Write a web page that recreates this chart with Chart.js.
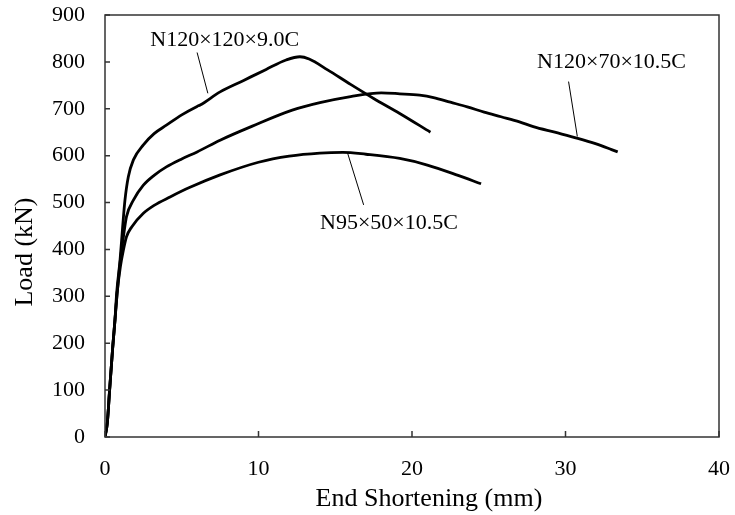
<!DOCTYPE html>
<html>
<head>
<meta charset="utf-8">
<script src="https://cdn.jsdelivr.net/npm/chart.js@4/dist/chart.umd.min.js"></script>
<style>
  html, body { margin: 0; padding: 0; background: #fff; }
  #wrap { width: 735px; height: 515px; }
</style>
</head>
<body>
<div id="wrap"><canvas id="chart" width="735" height="515"></canvas></div>
<script>
// End shortening (mm) / load (kN)
const n120x120_x = [0, 0.15, 0.3, 0.5, 0.65, 0.76, 0.98, 1.15, 1.3, 1.52, 1.85, 2.5, 3.2, 4.0, 5.0, 6.0, 6.2, 7.5, 9.0, 10.5, 11.8, 12.7, 13.3, 14.5, 16.0, 17.5, 19.2, 21.2];
const n120x120_y = [0, 30, 100, 190, 250, 307, 377, 448, 505, 555, 591, 623, 647, 665, 687, 705, 708, 736, 760, 784, 804, 811, 806, 783, 752, 722, 690, 650];

const n120x70_x = [0, 0.15, 0.3, 0.5, 0.65, 0.8, 1.0, 1.2, 1.4, 1.85, 2.5, 3.2, 4.0, 5.0, 6.0, 7.5, 9.6, 12.2, 14.0, 16.0, 18.0, 19.2, 20.5, 21.4, 22.5, 23.6, 24.7, 25.8, 27.0, 27.9, 29.3, 30.8, 32.0, 33.0, 33.4];
const n120x70_y = [0, 30, 100, 190, 250, 310, 377, 427, 470, 505, 537, 558, 576, 593, 608, 633, 663, 697, 713, 726, 734, 732, 729, 724, 714, 704, 693, 683, 672, 662, 650, 637, 625, 613, 608];

const n95x50_x = [0, 0.15, 0.3, 0.5, 0.65, 0.8, 1.0, 1.2, 1.4, 1.74, 2.5, 3.2, 4.24, 5.5, 7.5, 10.0, 12.0, 14.0, 15.5, 17.0, 19.2, 21.0, 23.0, 24.5];
const n95x50_y = [0, 30, 100, 190, 250, 310, 363, 399, 427, 448, 477, 494, 512, 532, 559, 586, 599, 605.5, 607, 603, 594, 580, 558, 540];

const xTicks = [0, 10, 20, 30, 40];
const yTicks = [0, 100, 200, 300, 400, 500, 600, 700, 800, 900];

// curve labels and their leader lines, in data units
const labelText = ['N120×120×9.0C', 'N120×70×10.5C', 'N95×50×10.5C'];
const labelX = [7.8, 33.0, 18.5];
const labelY = [846, 800, 456];
const leaderFrom = [[6.0, 820], [30.2, 758], [15.8, 606]];
const leaderTo = [[6.7, 733], [30.77, 641], [16.85, 495]];

const FONT = "'Liberation Serif', 'Times New Roman', serif";

function toPoints(xs, ys) {
    return xs.map((x, i) => ({ x: x, y: ys[i] }));
}

function curve(label, xs, ys) {
    return {
        label: label,
        data: toPoints(xs, ys),
        showLine: true,
        borderColor: '#000',
        borderWidth: 2.8,
        pointRadius: 0,
        cubicInterpolationMode: 'monotone',
        fill: false,
    };
}

// no automatic label overflow padding, the layout padding sets the plot box
function fixBox(scale) {
    scale.paddingTop = 0;
    scale.paddingBottom = 0;
    scale.paddingLeft = 0;
    scale.paddingRight = 0;
}

// frame, inward ticks, axis titles and curve labels
const decorations = {
    id: 'decorations',
    afterDatasetsDraw(chart) {
        const { ctx, chartArea: a, scales } = chart;
        const xs = scales.x, ys = scales.y;
        ctx.save();

        ctx.strokeStyle = '#333';
        ctx.lineWidth = 1.5;
        ctx.strokeRect(a.left, a.top, a.right - a.left, a.bottom - a.top);

        ctx.beginPath();
        xTicks.forEach(v => {
            const px = xs.getPixelForValue(v);
            ctx.moveTo(px, a.bottom);
            ctx.lineTo(px, a.bottom - 6);
        });
        yTicks.forEach(v => {
            const py = ys.getPixelForValue(v);
            ctx.moveTo(a.left, py);
            ctx.lineTo(a.left + 5, py);
        });
        ctx.stroke();

        // leaders
        ctx.strokeStyle = '#000';
        ctx.lineWidth = 1;
        ctx.beginPath();
        leaderFrom.forEach((p, i) => {
            const q = leaderTo[i];
            ctx.moveTo(xs.getPixelForValue(p[0]), ys.getPixelForValue(p[1]));
            ctx.lineTo(xs.getPixelForValue(q[0]), ys.getPixelForValue(q[1]));
        });
        ctx.stroke();

        ctx.fillStyle = '#000';
        ctx.textAlign = 'center';
        ctx.textBaseline = 'middle';
        ctx.font = '22px ' + FONT;
        labelText.forEach((t, i) => {
            ctx.fillText(t, xs.getPixelForValue(labelX[i]), ys.getPixelForValue(labelY[i]));
        });

        // axis titles
        ctx.font = '26px ' + FONT;
        ctx.fillText('End Shortening (mm)', 429, 499);
        ctx.translate(25, 252);
        ctx.rotate(-Math.PI / 2);
        ctx.fillText('Load (kN)', 0, 0);

        ctx.restore();
    }
};

new Chart(document.getElementById('chart'), {
    type: 'scatter',
    data: {
        datasets: [
            curve('N120×120×9.0C', n120x120_x, n120x120_y),
            curve('N120×70×10.5C', n120x70_x, n120x70_y),
            curve('N95×50×10.5C', n95x50_x, n95x50_y),
        ]
    },
    options: {
        responsive: false,
        animation: false,
        devicePixelRatio: 1,
        layout: { padding: { top: 15, right: 16, left: 0, bottom: 0 } },
        plugins: {
            legend: { display: false },
            tooltip: { enabled: false },
        },
        scales: {
            x: {
                type: 'linear',
                min: 0,
                max: 40,
                grid: { display: false, drawTicks: false },
                border: { display: false },
                ticks: {
                    stepSize: 10,
                    padding: 19,
                    color: '#000',
                    font: { family: FONT, size: 22 },
                },
                afterFit(scale) { scale.height = 78; fixBox(scale); },
            },
            y: {
                type: 'linear',
                min: 0,
                max: 900,
                grid: { display: false, drawTicks: false },
                border: { display: false },
                ticks: {
                    stepSize: 100,
                    padding: 20,
                    color: '#000',
                    font: { family: FONT, size: 22 },
                },
                afterFit(scale) { scale.width = 105; fixBox(scale); },
            },
        },
    },
    plugins: [decorations],
});
</script>
</body>
</html>
